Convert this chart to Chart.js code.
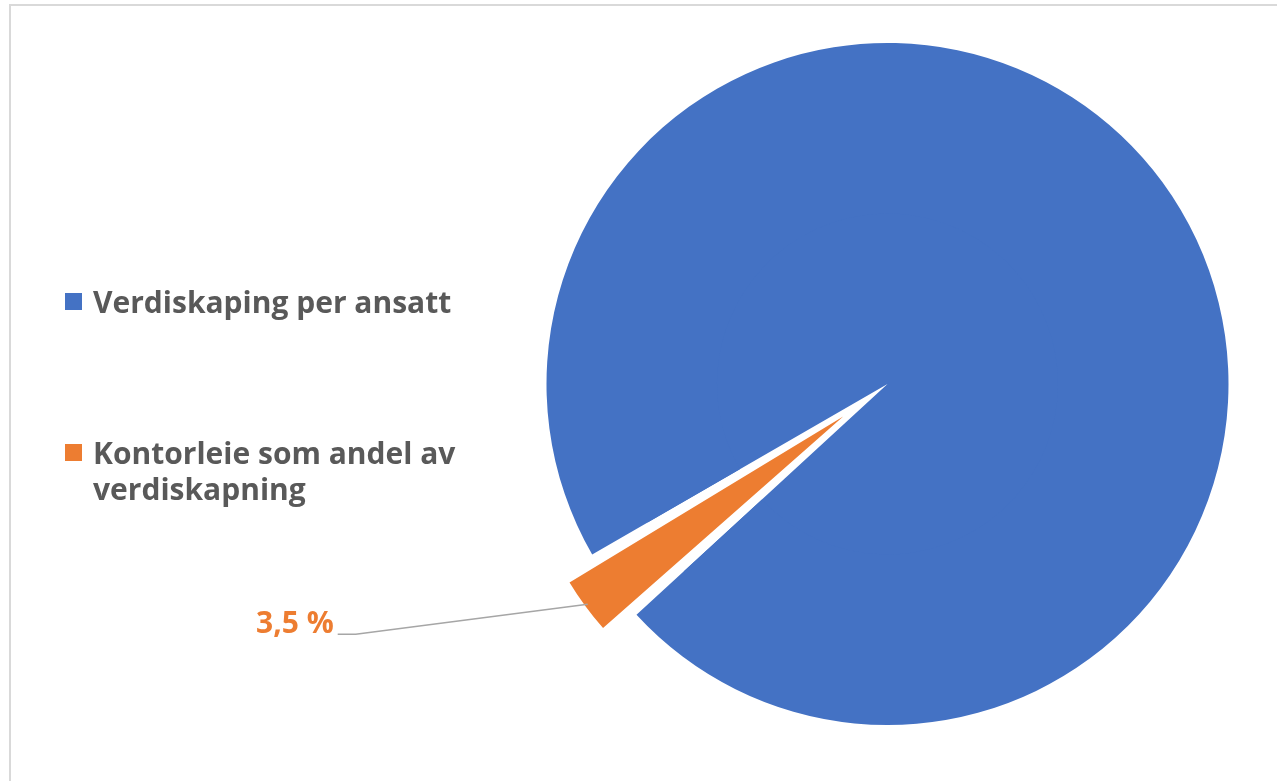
<!DOCTYPE html>
<html>
<head>
<meta charset="utf-8">
<script src="https://cdn.jsdelivr.net/npm/chart.js@4.4.1/dist/chart.umd.min.js"></script>
<style>
    html, body { margin: 0; padding: 0; background: #fff; }
    #chart-container { width: 1277px; height: 781px; position: relative; }
</style>
</head>
<body>
<div id="chart-container"><canvas id="myChart"></canvas></div>
<script>
// data
const labels = ["Verdiskaping per ansatt", "Kontorleie som andel av verdiskapning"];
const values = [96.5, 3.5];
const colors = ["#4472C4", "#ED7D31"];
const explodedIndex = 1;

const textGrey = "#595959";
const fontName = "'Open Sans'";
const fontSpec = "bold 30px " + fontName;

// outer ring keeps the big slice at full size, inner pie carries the exploded (smaller) slice
const ringColors = colors.map((c, i) => (i == explodedIndex ? "rgba(0,0,0,0)" : c));

const fmtPct = (v) => {
    let total = values.reduce((a, b) => a + b, 0);
    return (Math.round((v / total) * 1000) / 10).toFixed(1).replace(".", ",") + " %";
};

const wrapText = (ctx, text, maxWidth) => {
    let words = text.split(" ");
    let lines = [];
    let line = "";
    words.forEach((w) => {
        let test = line ? line + " " + w : w;
        if (ctx.measureText(test).width > maxWidth && line) {
            lines.push(line);
            line = w;
        } else {
            line = test;
        }
    });
    if (line) lines.push(line);
    return lines;
};

const decorPlugin = {
    id: "decor",
    beforeDraw: (chart) => {
        const ctx = chart.ctx;
        ctx.save();
        ctx.fillStyle = "#d9d9d9";
        ctx.fillRect(9, 4, 1268, 2);
        ctx.fillRect(9, 4, 2, 777);
        ctx.restore();
    },
    afterDraw: (chart) => {
        const ctx = chart.ctx;
        ctx.save();
        ctx.font = fontSpec;
        ctx.textBaseline = "alphabetic";

        // legend
        let legendTops = [313, 464];
        labels.forEach((lab, i) => {
            let base = legendTops[i];
            ctx.fillStyle = colors[i];
            ctx.fillRect(65, base - 20, 17, 17);
            ctx.fillStyle = textGrey;
            ctx.textAlign = "left";
            let lines = wrapText(ctx, lab, 420);
            lines.forEach((ln, j) => {
                ctx.fillText(ln, 93, base + j * 36);
            });
        });

        // data label with leader line
        const arc = chart.getDatasetMeta(1).data[explodedIndex];
        const p = arc.getProps(["x", "y", "startAngle", "endAngle", "outerRadius", "circumference"], true);
        const off = (arc.options.offset || 0) / 4;
        const fix = 1 - Math.sin(Math.min(Math.PI, p.circumference));
        const r = off + p.outerRadius + off * fix - 3;
        const h = (p.startAngle + p.endAngle) / 2;
        const ex = p.x + Math.cos(h) * r;
        const ey = p.y + Math.sin(h) * r;
        const kx = ex - 232;
        const ky = ey + 30;
        ctx.strokeStyle = "#a6a6a6";
        ctx.lineWidth = 1.5;
        ctx.beginPath();
        ctx.moveTo(ex, ey);
        ctx.lineTo(kx, ky);
        ctx.lineTo(kx - 18, ky);
        ctx.stroke();
        ctx.fillStyle = colors[explodedIndex];
        ctx.textAlign = "right";
        ctx.fillText(fmtPct(values[explodedIndex]), kx - 22, ky - 1);
        ctx.restore();
    },
};

const data = {
    labels: labels,
    datasets: [
        {
            data: values,
            backgroundColor: ringColors,
            borderWidth: 0,
            radius: 341,
        },
        {
            data: values,
            backgroundColor: colors,
            borderWidth: 0,
            radius: 554,
            offset: values.map((v, i) => (i == explodedIndex ? 220 : 0)),
        },
    ],
};

const config = {
    type: "pie",
    data: data,
    options: {
        responsive: false,
        animation: false,
        rotation: 240,
        layout: { padding: { left: 498, right: 0, top: 0, bottom: 13 } },
        plugins: {
            legend: { display: false },
            tooltip: { enabled: false },
        },
        events: [],
    },
    plugins: [decorPlugin],
};

const canva = document.getElementById("myChart");
canva.width = 1277;
canva.height = 781;

document.fonts.load(fontSpec).finally(() => {
    new Chart(canva, config);
});
</script>
</body>
</html>
